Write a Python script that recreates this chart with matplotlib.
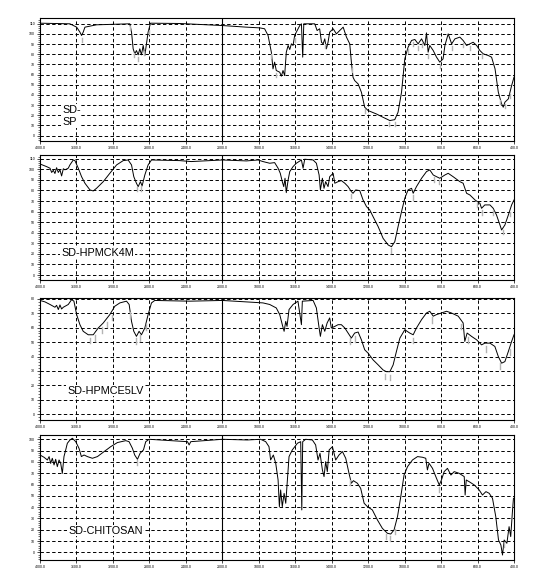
import numpy as np
import matplotlib
matplotlib.use('Agg')
from matplotlib import pyplot as plt
from matplotlib.ticker import FixedLocator, AutoMinorLocator, FuncFormatter

plt.rc('font', family='Liberation Sans')

# ---- spectra: wavenumber [cm-1] vs transmittance (10 units per grid row)
sp_wn = [4000, 3672, 3598, 3562, 3544, 3526, 3507, 3380, 3015, 2996, 2978, 2960, 2942, 2923,
         2905, 2887, 2868, 2850, 2832, 2814, 2788, 2467, 2000, 1868, 1795, 1768, 1749, 1731,
         1722, 1713, 1704, 1685, 1676, 1667, 1658, 1649, 1639, 1630, 1621, 1612, 1603, 1594,
         1575, 1566, 1559, 1553, 1493, 1480, 1466, 1456, 1447, 1438, 1429, 1420, 1411, 1392,
         1374, 1356, 1337, 1319, 1301, 1292, 1283, 1274, 1255, 1237, 1219, 1200, 1155, 1118,
         1081, 1054, 1036, 1017, 999, 981, 962, 944, 926, 907, 889, 880, 871, 862, 843, 825,
         807, 789, 779, 761, 742, 724, 697, 679, 660, 642, 624, 605, 587, 569, 541, 523, 504,
         486, 468, 459, 450, 431, 413, 400]
sp_t = [110.5, 109.9, 106.6, 101.7, 98.4, 101.7, 106.6, 108.9, 109.9, 101.7, 85.3, 80.4, 83.6,
        79.4, 85.3, 79.4, 88.6, 78.7, 90.2, 101.7, 110.5, 110.2, 108.2, 106.6, 105.9, 105.0,
        98.4, 82.0, 65.6, 72.2, 64.0, 62.3, 58.4, 64.0, 59.0, 82.0, 88.6, 84.6, 90.2, 88.6,
        98.4, 101.7, 108.2, 109.9, 77.1, 109.9, 109.9, 103.3, 105.0, 91.8, 90.2, 95.1, 85.3,
        91.8, 101.7, 105.0, 100.0, 103.3, 106.6, 96.8, 90.2, 72.2, 57.4, 54.1, 50.8, 42.6,
        27.9, 24.6, 21.3, 18.0, 14.8, 15.7, 23.0, 42.6, 75.4, 86.9, 93.5, 94.5, 90.2, 95.1,
        88.6, 101.0, 82.0, 88.6, 83.6, 77.1, 72.2, 75.4, 88.6, 100.0, 90.2, 95.1, 96.8, 93.5,
        88.6, 90.2, 91.8, 88.6, 83.6, 80.4, 78.7, 77.1, 65.6, 42.6, 31.2, 27.9, 32.8, 36.1,
        49.2, 57.4]
sp_peaks = [3544, 3015, 2971, 2923, 2861, 2803, 1731, 1704, 1603, 1435, 1290, 1219, 1085,
            1054, 981, 953, 926, 902, 871, 807, 742, 679, 642, 578, 477, 450, 422]

k4m_wn = [4000, 3927, 3890, 3872, 3854, 3836, 3818, 3799, 3781, 3763, 3744, 3726, 3690, 3672,
          3635, 3617, 3580, 3544, 3507, 3452, 3416, 3380, 3306, 3234, 3160, 3087, 3033, 2996,
          2971, 2942, 2923, 2898, 2880, 2850, 2814, 2777, 2467, 2340, 2000, 1868, 1804, 1777,
          1740, 1713, 1694, 1682, 1671, 1663, 1656, 1649, 1639, 1630, 1612, 1594, 1566, 1557,
          1548, 1502, 1484, 1469, 1462, 1451, 1442, 1433, 1420, 1411, 1392, 1383, 1365, 1347,
          1328, 1310, 1292, 1283, 1268, 1246, 1228, 1209, 1191, 1173, 1145, 1118, 1090, 1072,
          1054, 1036, 1017, 999, 981, 962, 953, 935, 907, 880, 862, 843, 825, 807, 779, 761,
          734, 697, 679, 660, 642, 614, 587, 578, 560, 532, 514, 496, 477, 468, 450, 431, 413,
          400]
k4m_t = [105.0, 102.5, 101.0, 97.0, 99.0, 96.0, 101.5, 97.0, 99.5, 93.7, 100.5, 99.5, 101.0,
         104.1, 108.8, 108.2, 101.0, 93.0, 86.8, 80.5, 79.5, 82.0, 88.3, 96.2, 104.1, 108.2,
         108.8, 104.1, 93.0, 86.8, 83.6, 88.3, 84.2, 94.6, 104.1, 108.8, 108.2, 107.3, 108.8,
         107.9, 108.8, 107.3, 105.7, 106.3, 101.0, 96.2, 88.3, 83.6, 91.5, 77.9, 89.9, 97.8,
         102.5, 105.7, 108.8, 101.0, 109.5, 108.8, 105.7, 94.6, 80.5, 91.5, 82.0, 88.3, 83.6,
         93.0, 96.2, 86.8, 88.3, 89.3, 86.8, 83.6, 78.9, 77.3, 80.5, 79.8, 71.0, 64.7, 61.5,
         55.2, 45.7, 34.7, 28.4, 26.8, 31.5, 45.7, 59.9, 72.6, 80.5, 82.0, 77.3, 83.6, 91.5,
         97.8, 99.4, 94.6, 93.0, 91.5, 94.6, 96.2, 93.0, 88.3, 86.8, 77.3, 75.7, 71.0, 67.8,
         63.1, 66.3, 66.3, 63.1, 56.8, 47.3, 42.6, 47.3, 56.8, 66.3, 71.0]
k4m_peaks = [2934, 2887, 1292, 1076, 953, 840, 811, 605, 578, 514, 459, 422]

e5lv_wn = [4000, 3945, 3890, 3836, 3818, 3799, 3781, 3763, 3744, 3690, 3653, 3628, 3598, 3562,
           3526, 3471, 3416, 3361, 3306, 3234, 3179, 3124, 3051, 3022, 2996, 2971, 2942, 2913,
           2887, 2850, 2814, 2777, 2741, 2357, 2000, 1868, 1777, 1740, 1704, 1685, 1671, 1661,
           1652, 1645, 1634, 1612, 1585, 1566, 1561, 1502, 1484, 1469, 1462, 1451, 1438, 1425,
           1411, 1402, 1383, 1365, 1347, 1328, 1310, 1292, 1274, 1255, 1237, 1219, 1200, 1173,
           1145, 1118, 1100, 1081, 1063, 1045, 1026, 999, 972, 953, 935, 907, 880, 862, 843,
           825, 798, 770, 743, 706, 679, 670, 657, 633, 605, 578, 560, 532, 505, 486, 468, 450,
           431, 413, 400]
e5lv_t = [78.9, 77.9, 76.1, 74.2, 75.5, 72.6, 75.8, 73.0, 74.2, 76.1, 79.5, 78.4, 69.1, 62.1,
          57.5, 55.1, 55.1, 59.8, 63.3, 69.1, 74.9, 77.2, 78.4, 76.1, 64.4, 57.5, 54.0, 57.5,
          55.1, 59.8, 69.1, 77.2, 78.9, 78.4, 78.9, 77.9, 77.2, 76.1, 73.7, 69.1, 62.1, 57.5,
          64.4, 60.9, 72.6, 76.1, 78.4, 62.1, 78.4, 78.9, 73.7, 59.8, 54.0, 62.1, 57.5, 63.3,
          66.8, 59.8, 60.9, 62.1, 62.1, 59.8, 56.3, 52.8, 56.3, 57.0, 51.6, 44.7, 42.3, 37.7,
          34.2, 30.7, 29.5, 29.5, 34.2, 43.5, 52.8, 58.6, 56.3, 55.1, 59.8, 65.6, 70.2, 71.4,
          68.0, 69.1, 70.2, 71.4, 70.2, 68.0, 63.3, 50.5, 56.3, 54.0, 51.6, 48.1, 49.3, 49.3,
          47.0, 40.0, 35.4, 36.5, 43.5, 50.5, 55.1]
e5lv_peaks = [3452, 3397, 3324, 3270, 3215, 3015, 2949, 2905, 2832, 1301, 1274, 1109, 1081,
              953, 851, 688, 651, 551, 477, 422]

chi_wn = [4000, 3956, 3919, 3900, 3883, 3865, 3846, 3828, 3810, 3791, 3773, 3755, 3737, 3718,
          3700, 3671, 3645, 3608, 3572, 3546, 3517, 3480, 3425, 3370, 3297, 3224, 3151, 3059,
          3023, 2986, 2961, 2931, 2902, 2865, 2840, 2803, 2382, 2364, 2346, 2000, 1863, 1790,
          1762, 1744, 1735, 1720, 1707, 1694, 1687, 1680, 1671, 1661, 1652, 1643, 1634, 1616,
          1588, 1570, 1564, 1559, 1543, 1506, 1488, 1475, 1464, 1451, 1442, 1433, 1424, 1414,
          1396, 1378, 1360, 1341, 1323, 1305, 1292, 1281, 1259, 1241, 1222, 1204, 1177, 1149,
          1122, 1094, 1076, 1058, 1039, 1021, 1003, 984, 957, 929, 902, 884, 875, 866, 847,
          829, 810, 798, 783, 765, 746, 728, 701, 673, 668, 662, 646, 618, 591, 573, 554, 536,
          518, 500, 485, 472, 463, 454, 439, 427, 418, 408, 403]
chi_t = [86.1, 84.1, 81.7, 84.7, 78.7, 83.2, 77.3, 82.3, 75.8, 81.7, 78.8, 69.9, 84.7, 90.6,
         96.5, 99.4, 100.9, 97.9, 92.0, 84.7, 86.1, 84.7, 83.2, 84.7, 89.1, 93.5, 97.1, 98.8,
         97.9, 92.0, 86.1, 82.3, 87.6, 90.6, 97.9, 100.0, 97.9, 95.0, 97.9, 100.0, 99.4, 100.0,
         97.9, 93.5, 81.7, 86.1, 78.8, 64.0, 40.4, 55.2, 40.4, 52.2, 43.4, 64.0, 84.7, 90.6,
         96.5, 97.9, 37.5, 97.9, 100.0, 99.4, 95.0, 81.7, 87.6, 72.9, 67.0, 80.2, 71.4, 90.6,
         93.5, 81.7, 86.1, 89.1, 83.2, 69.9, 61.1, 63.4, 61.1, 56.6, 43.4, 40.4, 37.5, 28.6,
         21.2, 16.8, 16.2, 19.8, 31.6, 49.3, 68.4, 75.8, 81.7, 84.7, 84.1, 83.2, 72.9, 78.8,
         74.3, 67.0, 59.6, 64.0, 71.4, 74.3, 68.4, 71.4, 69.9, 67.0, 50.7, 64.0, 62.5, 59.6,
         55.2, 50.7, 53.7, 52.2, 47.8, 31.6, 10.9, 6.5, -2.4, 10.9, 8.0, 22.7, 13.9, 37.5, 47.8]
chi_peaks = [2939, 1299, 1103, 1080, 1054, 810, 454]

labels = ['SD-\nSP', 'SD-HPMCK4M', 'SD-HPMCE5LV', 'SD-CHITOSAN']
x_ticks = [4000, 3600, 3200, 2800, 2400, 2000, 1800, 1600, 1400, 1200, 1000, 800, 600, 400]


def forward(wn):
    wn = np.asarray(wn, dtype=float)
    return np.where(wn >= 2000, (wn - 2000) / 400.0, (wn - 2000) / 200.0)


def inverse(d):
    d = np.asarray(d, dtype=float)
    return np.where(d >= 0, 2000 + 400.0 * d, 2000 + 200.0 * d)


W, H = 533, 571
fig = plt.figure(figsize=(W / 100, H / 100), dpi=100)

# panel boxes in pixels (top, bottom), y limits, number of grid rows, label anchor (px)
boxes = [(18, 141), (155, 280), (298, 420), (435, 560)]
ylims = [(-5.3, 115.6), (-4.7, 113.5), (-4.0, 80.6), (-6.8, 103.8)]
nrows = [11, 11, 8, 10]
label_xy = [(62, 116), (61, 253.5), (67, 390.5), (68, 530.5)]

spectra = [(sp_wn, sp_t, sp_peaks), (k4m_wn, k4m_t, k4m_peaks),
           (e5lv_wn, e5lv_t, e5lv_peaks), (chi_wn, chi_t, chi_peaks)]

x0, x1 = 40, 514
for i, (wn, t, peaks) in enumerate(spectra):
    top, bot = boxes[i]
    ax = fig.add_axes([x0 / W, 1 - bot / H, (x1 - x0) / W, (bot - top) / H])
    ax.set_xscale('function', functions=(forward, inverse))
    ax.set_xlim(4000, 400)
    ax.set_ylim(*ylims[i])

    ax.plot(wn, t, color='black', lw=0.7)

    # grey peak pick marks under the minima
    wn_a = np.array(wn[::-1], float)
    t_a = np.array(t[::-1], float)
    for p in peaks:
        tp = np.interp(p, wn_a, t_a)
        ax.plot([p, p], [tp - 2.0, tp - 6.0], color='#b4b4b4', lw=1.0)

    ax.axvline(2000, color='black', lw=0.8)

    ax.xaxis.set_major_locator(FixedLocator(x_ticks))
    ax.xaxis.set_major_formatter(FuncFormatter(lambda v, pos: '%.1f' % v))
    yt = [10 * k for k in range(nrows[i] + 1)]
    ax.yaxis.set_major_locator(FixedLocator(yt))
    ax.yaxis.set_major_formatter(FuncFormatter(lambda v, pos: '%d' % v))
    ax.yaxis.set_minor_locator(AutoMinorLocator(5))
    ax.tick_params(axis='both', which='major', labelsize=2.5, length=2.5, width=0.5, pad=1)
    ax.tick_params(axis='y', which='minor', length=1.5, width=0.4)
    ax.grid(True, which='major', color='black', lw=0.7, linestyle=(0, (3.5, 2.5)))

    for s in ax.spines.values():
        s.set_linewidth(0.8)

    lx, ly = label_xy[i]
    ax.text(lx / W, 1 - ly / H, labels[i], transform=fig.transFigure, fontsize=7.8,
            ha='left', va='center', linespacing=1.35,
            bbox=dict(facecolor='white', edgecolor='none', pad=0.6), zorder=5)

fig.savefig('out.png', dpi=100)
